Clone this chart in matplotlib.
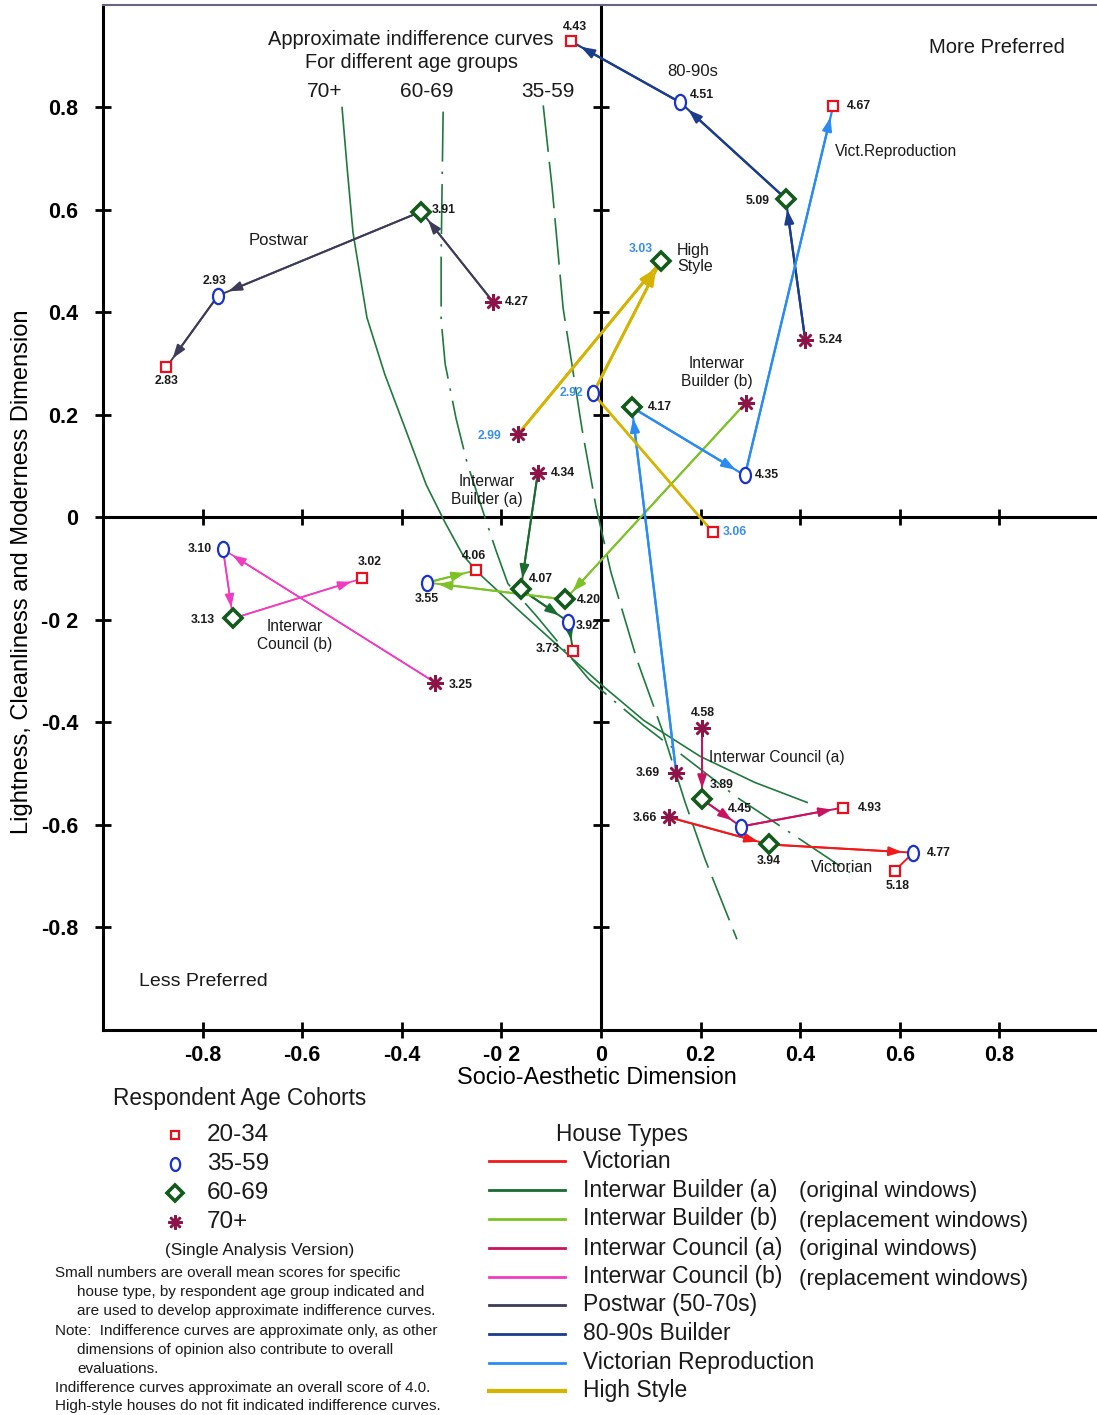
import matplotlib
matplotlib.use("Agg")
import matplotlib.pyplot as plt
from matplotlib.path import Path
from matplotlib.lines import Line2D
import numpy as np

plt.rcParams['font.family'] = ['Liberation Sans', 'DejaVu Sans']

# ---------------- data ----------------
cohorts = ['20-34', '35-59', '60-69', '70+']

house_types = ['Victorian', 'Interwar Builder (a)', 'Interwar Builder (b)',
               'Interwar Council (a)', 'Interwar Council (b)', 'Postwar (50-70s)',
               '80-90s Builder', 'Victorian Reproduction', 'High Style']
house_notes = ['', '(original windows)', '(replacement windows)',
               '(original windows)', '(replacement windows)', '', '', '', '']

# coordinates per cohort in order 20-34, 35-59, 60-69, 70+
victorian_x = [0.590, 0.627, 0.337, 0.137]
victorian_y = [-0.689, -0.654, -0.638, -0.585]
victorian_s = [5.18, 4.77, 3.94, 3.66]

ib_a_x = [-0.056, -0.066, -0.161, -0.127]
ib_a_y = [-0.260, -0.203, -0.140, 0.086]
ib_a_s = [3.73, 3.92, 4.07, 4.34]

ib_b_x = [-0.251, -0.349, -0.072, 0.291]
ib_b_y = [-0.103, -0.127, -0.160, 0.224]
ib_b_s = [4.06, 3.55, 4.20, None]

ic_a_x = [0.486, 0.281, 0.203, 0.203]
ic_a_y = [-0.566, -0.603, -0.550, -0.410]
ic_a_s = [4.93, 4.45, 3.89, 4.58]

ic_b_x = [-0.480, -0.759, -0.739, -0.333]
ic_b_y = [-0.119, -0.062, -0.197, -0.322]
ic_b_s = [3.02, 3.10, 3.13, 3.25]

postwar_x = [-0.873, -0.769, -0.361, -0.217]
postwar_y = [0.293, 0.433, 0.597, 0.421]
postwar_s = [2.83, 2.93, 3.91, 4.27]

b8090_x = [-0.060, 0.159, 0.371, 0.410]
b8090_y = [0.929, 0.810, 0.622, 0.347]
b8090_s = [4.43, 4.51, 5.09, 5.24]

vrep_x = [0.466, 0.289, 0.062, 0.151]
vrep_y = [0.802, 0.082, 0.215, -0.498]
vrep_s = [4.67, 4.35, 4.17, 3.69]

hstyle_x = [0.225, -0.016, 0.120, -0.167]
hstyle_y = [-0.029, 0.242, 0.500, 0.162]
hstyle_s = [3.06, 2.92, 3.03, 2.99]

# indifference curves
curve70_x = [-0.520, -0.510, -0.498, -0.470, -0.434, -0.396, -0.351, -0.313, -0.277, -0.243,
             -0.163, -0.082, -0.002, 0.086, 0.199, 0.309, 0.414]
curve70_y = [0.800, 0.685, 0.556, 0.390, 0.279, 0.181, 0.064, -0.010, -0.074, -0.111,
             -0.183, -0.254, -0.324, -0.396, -0.466, -0.517, -0.556]
curve60_x = [-0.317, -0.321, -0.321, -0.313, -0.291, -0.269, -0.233, -0.211, -0.187,
             -0.129, -0.024, 0.020, 0.086, 0.273, 0.400, 0.500]
curve60_y = [0.792, 0.513, 0.386, 0.300, 0.193, 0.107, 0.000, -0.064, -0.129,
             -0.193, -0.316, -0.353, -0.406, -0.546, -0.628, -0.693]
curve35_x = [-0.116, -0.098, -0.076, -0.038, -0.010, 0.020, 0.072, 0.124, 0.169, 0.209, 0.273]
curve35_y = [0.804, 0.642, 0.408, 0.172, 0.021, -0.107, -0.277, -0.418, -0.556, -0.667, -0.823]

xticks = [-0.8, -0.6, -0.4, -0.2, 0, 0.2, 0.4, 0.6, 0.8]
xtick_labels = ['-0.8', '-0.6', '-0.4', '-0 2', '0', '0.2', '0.4', '0.6', '0.8']
yticks = [-0.8, -0.6, -0.4, -0.2, 0, 0.2, 0.4, 0.6, 0.8]
ytick_labels = ['-0.8', '-0.6', '-0.4', '-0 2', '0', '0.2', '0.4', '0.6', '0.8']

# ---------------- styles ----------------
series = [
    (victorian_x, victorian_y, victorian_s, '#f01a1a', 1.4),
    (ib_a_x, ib_a_y, ib_a_s, '#1a6b30', 1.4),
    (ib_b_x, ib_b_y, ib_b_s, '#7cc225', 1.4),
    (ic_a_x, ic_a_y, ic_a_s, '#c8145e', 1.4),
    (ic_b_x, ic_b_y, ic_b_s, '#f03cc0', 1.2),
    (postwar_x, postwar_y, postwar_s, '#3c3c5a', 1.4),
    (b8090_x, b8090_y, b8090_s, '#1c3c8c', 1.6),
    (vrep_x, vrep_y, vrep_s, '#2a8cf0', 1.6),
    (hstyle_x, hstyle_y, hstyle_s, '#d4b400', 2.0),
]
house_colors = [s[3] for s in series]

# segments (from cohort index, to cohort index, arrowhead)
default_path = [(3, 2, True), (2, 1, True), (1, 0, True)]
paths = [
    [(3, 2, True), (2, 1, True), (1, 0, False)],
    default_path, default_path, default_path,
    [(3, 1, True), (1, 2, True), (2, 0, True)],
    default_path, default_path, default_path,
    [(3, 2, True), (1, 2, True), (1, 0, False)],
]

# score label offsets in pixels (dx, dy-down)
label_offsets = [
    [(3, 15), (26, 0), (0, 17), (-24, 1)],
    [(-25, -2), (19, 4), (20, -10), (25, 0)],
    [(-2, -14), (0, 16), (24, 1), (0, 0)],
    [(27, 0), (-1, -18), (20, -14), (1, -15)],
    [(8, -16), (-23, 0), (-30, 2), (26, 2)],
    [(0, 14), (-3, -15), (22, -2), (24, 0)],
    [(4, -14), (22, -7), (-28, 2), (25, 0)],
    [(26, 0), (22, 0), (28, 0), (-28, 0)],
    [(22, 0), (-22, 0), (-20, -12), (-28, 2)],
]
label_colors = ['#1a1a1a'] * 8 + ['#3a8fe6']

ellipse = Path.unit_circle()
ellipse = Path(ellipse.vertices * np.array([0.72, 1.0]), ellipse.codes)
marker_styles = [
    dict(marker='s', ms=7, mfc='white', mec='#e8101e', mew=1.6),
    dict(marker=ellipse, ms=11, mfc='white', mec='#1a32c8', mew=1.6),
    dict(marker='D', ms=9, mfc='white', mec='#145a1e', mew=2.6),
    dict(marker=(8, 2, 0), ms=12, mfc='#8c1446', mec='#8c1446', mew=1.8),
]

# ---------------- figure ----------------
W, H = 1097, 1415
fig = plt.figure(figsize=(W / 100, H / 100), dpi=100)
ax = fig.add_axes([103 / W, 1 - 1030 / H, 1 - 103 / W, (1030 - 5) / H])
ax.set_xlim(-1.0, 0.996)
ax.set_ylim(-1.0, 1.0)

ax.spines['right'].set_visible(False)
ax.spines['top'].set_color('#666680')
ax.spines['top'].set_linewidth(1.5)
ax.spines['left'].set_linewidth(2.2)
ax.spines['bottom'].set_linewidth(2.2)

ax.set_xticks(xticks)
ax.set_xticklabels(xtick_labels, fontsize=15.5, fontweight='bold',
                   family=['Liberation Sans Narrow', 'Liberation Sans'])
ax.set_yticks(yticks)
ax.set_yticklabels(ytick_labels, fontsize=15.5, fontweight='bold')
ax.tick_params(axis='x', direction='inout', length=12, width=2, pad=5, top=False)
ax.tick_params(axis='y', direction='inout', length=12, width=2, pad=12, right=False)

# centre axes
ax.axhline(0, color='black', lw=2.2, zorder=2)
ax.axvline(0, color='black', lw=2.2, zorder=2)
ax.plot(np.zeros(len(yticks)), yticks, linestyle='none', marker='_', ms=12, mew=2, color='black', zorder=2)
ax.plot(xticks, np.zeros(len(xticks)), linestyle='none', marker='|', ms=12, mew=2, color='black', zorder=2)

ax.set_xlabel('Socio-Aesthetic Dimension', fontsize=16.8, labelpad=10)
ax.set_ylabel('Lightness, Cleanliness and Moderness Dimension', fontsize=17, labelpad=8)
ax.yaxis.set_label_coords(-0.07, 0.447)
ax.xaxis.set_label_coords(0.497, -0.035)

# indifference curves
cgreen = '#1e7a3c'
ax.plot(curve70_x, curve70_y, color=cgreen, lw=1.2, zorder=3, solid_joinstyle='round')
ax.plot(curve60_x, curve60_y, color=cgreen, lw=1.2, dashes=(30, 6, 1.5, 6), zorder=3)
ax.plot(curve35_x, curve35_y, color=cgreen, lw=1.2, dashes=(28, 6), zorder=3)

# series
for (xs, ys, ss, col, lw), pth, offs, lcol in zip(series, paths, label_offsets, label_colors):
    for a, b, head in pth:
        ax.plot([xs[a], xs[b]], [ys[a], ys[b]], color=col, lw=lw, zorder=4,
                solid_capstyle='round')
        if head:
            ax.annotate('', xy=(xs[b], ys[b]), xytext=(xs[a], ys[a]),
                        arrowprops=dict(arrowstyle='-|>,head_length=0.8,head_width=0.28',
                                        color=col, lw=lw, shrinkA=0, shrinkB=8),
                        zorder=4)
    for i in range(4):
        ax.plot(xs[i], ys[i], linestyle='none', zorder=6, **marker_styles[i])
        if ss[i] is not None:
            dx, dy = offs[i]
            ax.annotate(f'{ss[i]:.2f}', xy=(xs[i], ys[i]), xytext=(dx, -dy),
                        textcoords='offset pixels', ha='center', va='center',
                        fontsize=8.8, fontweight='bold', color=lcol, zorder=7)

# text annotations in plot
txt = dict(color='#1a1a1a', zorder=8)
ax.text(-0.383, 0.933, 'Approximate indifference curves', ha='center', va='center', fontsize=14.4, **txt)
ax.text(-0.381, 0.888, 'For different age groups', ha='center', va='center', fontsize=14.4, **txt)
ax.text(-0.554, 0.831, '70+', ha='center', va='center', fontsize=15, **txt)
ax.text(-0.349, 0.831, '60-69', ha='center', va='center', fontsize=15, **txt)
ax.text(-0.106, 0.831, '35-59', ha='center', va='center', fontsize=15, **txt)
ax.text(0.185, 0.870, '80-90s', ha='center', va='center', fontsize=12, **txt)
ax.text(0.795, 0.917, 'More Preferred', ha='center', va='center', fontsize=14.5, **txt)
ax.text(-0.799, -0.905, 'Less Preferred', ha='center', va='center', fontsize=14, **txt)
ax.text(0.470, 0.714, 'Vict.Reproduction', ha='left', va='center', fontsize=11.2, **txt)
ax.text(-0.647, 0.540, 'Postwar', ha='center', va='center', fontsize=12, **txt)
ax.text(0.153, 0.505, 'High\nStyle', ha='left', va='center', fontsize=11.5, linespacing=1.1, **txt)
ax.text(0.233, 0.283, 'Interwar\nBuilder (b)', ha='center', va='center', fontsize=11.2, linespacing=1.3, **txt)
ax.text(-0.229, 0.053, 'Interwar\nBuilder (a)', ha='center', va='center', fontsize=11.2, linespacing=1.3, **txt)
ax.text(-0.616, -0.230, 'Interwar\nCouncil (b)', ha='center', va='center', fontsize=11.2, linespacing=1.3, **txt)
ax.text(0.217, -0.468, 'Interwar Council (a)', ha='left', va='center', fontsize=11.2, **txt)
ax.text(0.484, -0.683, 'Victorian', ha='center', va='center', fontsize=11.5, **txt)

# ---------------- legends (overlay in pixel coords) ----------------
ov = fig.add_axes([0, 0, 1, 1])
ov.set_xlim(0, W)
ov.set_ylim(H, 0)
ov.axis('off')

ov.text(240, 1099, 'Respondent Age Cohorts', ha='center', va='center', fontsize=16.3, color='#1a1a1a')
coh_rows = [1135, 1164, 1193, 1222]
for i, c in enumerate(cohorts):
    ms = dict(marker_styles[i])
    ms['ms'] = ms['ms'] * 0.85
    ov.plot([175], [coh_rows[i]], linestyle='none', **ms)
    ov.text(207, coh_rows[i], c, ha='left', va='center', fontsize=17.5, color='#1a1a1a')
ov.text(260, 1250, '(Single Analysis Version)', ha='center', va='center', fontsize=12.3, color='#1a1a1a')

notes = [
    (55, 'Small numbers are overall mean scores for specific'),
    (77, 'house type, by respondent age group indicated and'),
    (77, 'are used to develop approximate indifference curves.'),
    (55, 'Note:  Indifference curves are approximate only, as other'),
    (77, 'dimensions of opinion also contribute to overall'),
    (77, 'evaluations.'),
    (55, 'Indifference curves approximate an overall score of 4.0.'),
    (55, 'High-style houses do not fit indicated indifference curves.'),
]
note_rows = [1273, 1292, 1311, 1331, 1350, 1369, 1388, 1406]
for (xl, t), yr in zip(notes, note_rows):
    ov.text(xl, yr, t, ha='left', va='center', fontsize=11, color='#1a1a1a')

ov.text(556, 1135, 'House Types', ha='left', va='center', fontsize=16.3, color='#1a1a1a')
ht_rows = [1161, 1190, 1219, 1248, 1277, 1305, 1334, 1363, 1391]
for name, note, col, yr in zip(house_types, house_notes, house_colors, ht_rows):
    lw = 3 if name == 'High Style' else 2
    ov.add_line(Line2D([489, 565], [yr, yr], color=col, lw=lw))
    ov.text(583, yr, name, ha='left', va='center', fontsize=16.5, color='#1a1a1a')
    if note:
        ov.text(799, yr + 2, note, ha='left', va='center', fontsize=16, color='#1a1a1a')

fig.savefig('out.png', dpi=100)
